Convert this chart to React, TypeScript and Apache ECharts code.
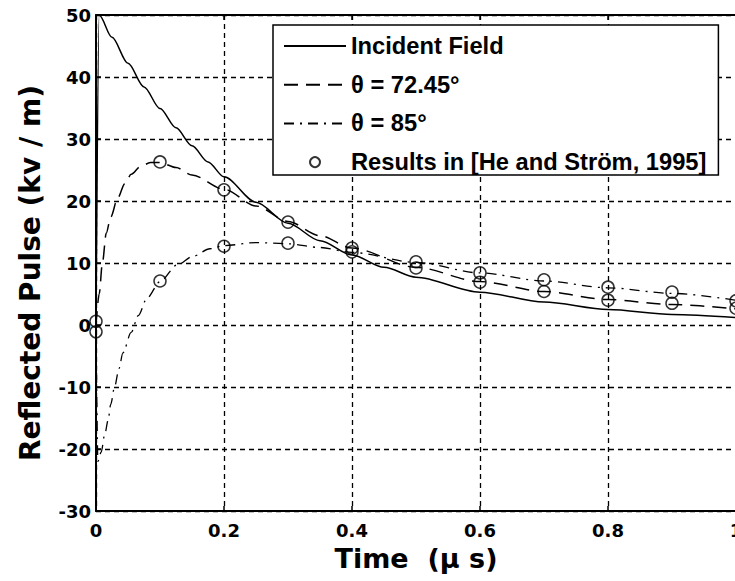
import React, { useEffect, useRef } from "react";
import * as echarts from "echarts";

// Incident field
const incidentT = [0, 0.005, 0.025, 0.05, 0.075, 0.1, 0.125, 0.15, 0.175, 0.2, 0.25, 0.3, 0.35, 0.4, 0.45, 0.5, 0.6, 0.7, 0.8, 0.9, 1.0];
const incidentV = [0, 50, 46.4, 42.2, 38.4, 34.9, 31.8, 28.9, 26.3, 23.9, 19.8, 16.4, 13.6, 11.3, 9.3, 7.7, 5.3, 3.7, 2.5, 1.7, 1.2];

// theta = 72.45
const th72T = [0, 0.005, 0.01, 0.016, 0.023, 0.034, 0.045, 0.055, 0.07, 0.085, 0.1, 0.125, 0.15, 0.2, 0.25, 0.3, 0.35, 0.4, 0.5, 0.6, 0.7, 0.8, 0.9, 1.0];
const th72V = [0, 5, 10, 14.8, 17.4, 20.5, 22.8, 24.3, 25.6, 26.2, 26.2, 25.4, 24.2, 21.9, 19.2, 16.7, 14.4, 12.4, 9.3, 7.0, 5.4, 4.1, 3.3, 2.6];

// theta = 85
const th85T = [0, 0.003, 0.008, 0.014, 0.019, 0.023, 0.029, 0.036, 0.042, 0.055, 0.066, 0.08, 0.1, 0.127, 0.152, 0.178, 0.2, 0.25, 0.3, 0.35, 0.4, 0.5, 0.6, 0.7, 0.8, 0.9, 1.0];
const th85V = [0, -22, -20.5, -17.5, -15.3, -12.8, -10, -7, -4.5, -1.2, 1.5, 4.4, 7.0, 9.7, 11.1, 12.3, 12.8, 13.3, 13.1, 12.5, 11.7, 10.1, 8.4, 7.1, 6.0, 5.1, 4.0];

// Results in [He and Ström, 1995]
const heT = [0, 0.1, 0.2, 0.3, 0.4, 0.5, 0.6, 0.7, 0.8, 0.9, 1.0];
const he72V = [0.6, 26.3, 21.8, 16.6, 12.4, 9.2, 6.9, 5.4, 4.0, 3.5, 2.7];
const he85V = [-1.1, 7.1, 12.7, 13.2, 11.8, 10.2, 8.4, 7.3, 6.1, 5.3, 3.9];

const seriesNames = ["Incident Field", "θ = 72.45°", "θ = 85°", "Results in [He and Ström, 1995]"];

const zip = (t: number[], v: number[]) => t.map((x, i) => [x, v[i]]);

export default function App() {
  const ref = useRef<HTMLDivElement>(null);
  useEffect(() => {
    document.body.style.margin = "0";
    const chart = echarts.init(ref.current!, null, { renderer: "svg" });
    const tickFont = { fontFamily: "DejaVu Sans", fontWeight: "bold" as const, fontSize: 18, color: "#000" };
    const lineCommon = { type: "line", symbol: "none", smooth: 0.3, smoothMonotone: "x", clip: true };
    chart.setOption({
      animation: false,
      backgroundColor: "#fff",
      grid: { left: 96, top: 15, width: 640, height: 496, containLabel: false, outerBoundsMode: "none" },
      legend: {
        orient: "vertical",
        left: 273,
        top: 25,
        padding: [8, 12, 0, 10],
        itemWidth: 62,
        itemHeight: 10,
        itemGap: 12.7,
        borderColor: "#000",
        borderWidth: 1.5,
        borderRadius: 0,
        backgroundColor: "#fff",
        textStyle: { fontFamily: "Liberation Sans", fontWeight: "bold", fontSize: 23.7, color: "#000", lineHeight: 26 },
        data: [
          { name: seriesNames[0], itemStyle: { opacity: 0 } },
          { name: seriesNames[1], itemStyle: { opacity: 0 } },
          { name: seriesNames[2], itemStyle: { opacity: 0 } },
          { name: seriesNames[3] },
        ],
      },
      xAxis: [
        {
          type: "value",
          min: 0,
          max: 1,
          interval: 0.2,
          name: "Time  (μ s)",
          nameLocation: "middle",
          nameGap: 34,
          nameTextStyle: { fontFamily: "DejaVu Sans", fontWeight: "bold", fontSize: 27, color: "#000" },
          axisLine: { show: true, onZero: false, lineStyle: { color: "#000", width: 2 } },
          axisTick: { show: true, inside: true, length: 5, lineStyle: { color: "#000", width: 1.5 } },
          axisLabel: { ...tickFont, margin: 10, formatter: (v: number) => String(Math.round(v * 10) / 10) },
          splitLine: { show: true, lineStyle: { color: "#000", type: [5, 4], width: 1.3 } },
        },
        {
          type: "value",
          position: "top",
          min: 0,
          max: 1,
          interval: 0.2,
          axisLine: { show: true, onZero: false, lineStyle: { color: "#000", width: 2 } },
          axisTick: { show: true, inside: true, length: 5, lineStyle: { color: "#000", width: 1.5 } },
          axisLabel: { show: false },
          splitLine: { show: false },
        },
      ],
      yAxis: [
        {
          type: "value",
          min: -30,
          max: 50,
          interval: 10,
          name: "Reflected Pulse (kv / m)",
          nameLocation: "middle",
          nameGap: 52,
          nameTextStyle: { fontFamily: "DejaVu Sans", fontWeight: "bold", fontSize: 28, color: "#000", padding: [0, 20, 0, 0] },
          axisLine: { show: true, onZero: false, lineStyle: { color: "#000", width: 2 } },
          axisTick: { show: true, inside: true, length: 5, lineStyle: { color: "#000", width: 1.5 } },
          axisLabel: { ...tickFont, margin: 5 },
          splitLine: { show: true, lineStyle: { color: "#000", type: [5, 4], width: 1.3 } },
        },
      ],
      series: [
        {
          ...lineCommon,
          name: seriesNames[0],
          data: zip(incidentT, incidentV),
          lineStyle: { color: "#000", width: 1.5, type: "solid" },
          itemStyle: { color: "#000" },
        },
        {
          ...lineCommon,
          name: seriesNames[1],
          data: zip(th72T, th72V),
          lineStyle: { color: "#000", width: 1.5, type: [14, 8] },
          itemStyle: { color: "#000" },
        },
        {
          ...lineCommon,
          name: seriesNames[2],
          data: zip(th85T, th85V),
          lineStyle: { color: "#000", width: 1.3, type: [10, 6, 2, 6] },
          itemStyle: { color: "#000" },
        },
        {
          type: "scatter",
          name: seriesNames[3],
          symbol: "circle",
          symbolSize: 12,
          data: [...zip(heT, he72V), ...zip(heT, he85V)],
          itemStyle: { color: "rgba(0,0,0,0)", borderColor: "#000", borderWidth: 1.5 },
        },
      ],
    });
    return () => chart.dispose();
  }, []);
  return <div ref={ref} style={{ position: "absolute", left: 0, top: 0, width: 735, height: 581 }} />;
}
